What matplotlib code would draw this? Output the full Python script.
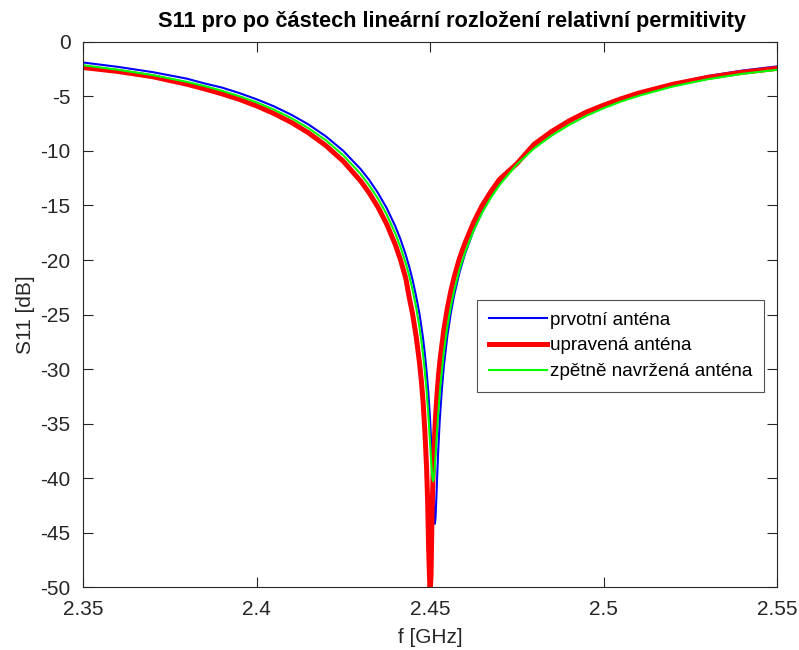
import matplotlib
matplotlib.use("Agg")
import matplotlib.pyplot as plt

plt.rcParams['font.family'] = ['Liberation Sans', 'DejaVu Sans']

# --- data (f in GHz, S11 in dB) ---
f_blue = [2.350, 2.360, 2.370, 2.380, 2.385, 2.390, 2.395, 2.400, 2.405, 2.410, 2.415,
          2.420, 2.425, 2.430, 2.4325, 2.435, 2.4375, 2.440, 2.4415, 2.443, 2.444,
          2.445, 2.446, 2.447, 2.448, 2.4485, 2.449, 2.4495, 2.450, 2.4505, 2.4509,
          2.4512, 2.4514, 2.4516, 2.4519, 2.4523, 2.4528, 2.4534, 2.454, 2.455,
          2.456, 2.457, 2.4585, 2.460, 2.4625, 2.465, 2.4675, 2.470, 2.475, 2.480,
          2.485, 2.490, 2.495, 2.500, 2.505, 2.510, 2.520, 2.530, 2.540, 2.550]
s_blue = [-1.88, -2.28, -2.76, -3.37, -3.80, -4.18, -4.68, -5.25, -5.90, -6.67, -7.57,
          -8.66, -9.99, -11.66, -12.67, -13.85, -15.23, -16.91, -18.11, -19.52, -20.61,
          -21.87, -23.34, -25.0, -27.2, -28.6, -30.18, -32.1, -34.5, -37.76, -41.1,
          -43.5, -44.2, -43.6, -41.2, -37.9, -34.7, -31.9, -29.7, -26.95,
          -24.86, -23.17, -21.14, -19.52, -17.33, -15.61, -14.19, -12.99, -11.06, -9.54,
          -8.33, -7.33, -6.49, -5.77, -5.16, -4.63, -3.80, -3.13, -2.62, -2.24]

f_red = [2.350, 2.360, 2.370, 2.380, 2.385, 2.390, 2.395, 2.400, 2.405, 2.410, 2.415,
         2.420, 2.425, 2.430, 2.4325, 2.435, 2.4375, 2.440, 2.4415, 2.443, 2.444,
         2.445, 2.446, 2.447, 2.4475, 2.448, 2.4485, 2.449, 2.4493, 2.4496, 2.4500,
         2.4503, 2.4506, 2.451, 2.4515, 2.452, 2.4525, 2.453, 2.454, 2.455, 2.456,
         2.457, 2.4585, 2.460, 2.4625, 2.465, 2.4675, 2.470, 2.475, 2.480, 2.485,
         2.490, 2.495, 2.500, 2.505, 2.510, 2.520, 2.530, 2.540, 2.550]
s_red = [-2.34, -2.70, -3.18, -3.88, -4.30, -4.75, -5.26, -5.86, -6.56, -7.37, -8.34,
         -9.51, -10.94, -12.75, -13.86, -15.15, -16.69, -18.59, -19.99, -21.66, -23.4,
         -25.0, -27.0, -29.5, -31.1, -33.0, -35.6, -39.0, -42.0, -46.5, -50.5,
         -48.9, -42.8, -38.4, -34.9, -32.4, -30.4, -28.85, -26.35, -24.42, -22.84,
         -21.51, -19.84, -18.51, -16.59, -15.01, -13.74, -12.61, -11.17, -9.38, -8.22,
         -7.25, -6.44, -5.80, -5.22, -4.70, -3.88, -3.25, -2.78, -2.42]

f_green = [2.350, 2.360, 2.370, 2.380, 2.385, 2.390, 2.395, 2.400, 2.405, 2.410, 2.415,
           2.420, 2.425, 2.430, 2.4325, 2.435, 2.4375, 2.440, 2.4415, 2.443, 2.444,
           2.445, 2.446, 2.447, 2.448, 2.4485, 2.449, 2.4495, 2.450, 2.4504, 2.4507,
           2.4509, 2.4511, 2.4514, 2.4518, 2.4523, 2.453, 2.454, 2.455, 2.456, 2.457,
           2.4585, 2.460, 2.4625, 2.465, 2.4675, 2.470, 2.475, 2.480, 2.485, 2.490,
           2.495, 2.500, 2.505, 2.510, 2.520, 2.530, 2.540, 2.550]
s_green = [-2.13, -2.54, -3.03, -3.66, -4.04, -4.47, -4.97, -5.53, -6.20, -6.98, -7.91,
           -9.02, -10.39, -12.11, -13.16, -14.37, -15.81, -17.57, -18.83, -20.29, -21.44,
           -22.77, -24.34, -26.26, -28.69, -30.2, -31.98, -34.13, -36.7, -38.84, -40.04,
           -40.3, -40.06, -38.93, -36.86, -34.35, -31.48, -28.42, -26.11, -24.28, -22.75,
           -20.88, -19.40, -17.33, -15.66, -14.30, -13.13, -11.24, -9.76, -8.60, -7.62,
           -6.78, -6.08, -5.47, -4.95, -4.08, -3.42, -2.92, -2.55]

labels = ['prvotní anténa', 'upravená anténa', 'zpětně navržená anténa']
x_ticks = [2.35, 2.40, 2.45, 2.50, 2.55]
x_ticklabels = ['2.35', '2.4', '2.45', '2.5', '2.55']
y_ticks = [0, -5, -10, -15, -20, -25, -30, -35, -40, -45, -50]

fig = plt.figure(figsize=(7.99, 6.5), dpi=100)
ax = fig.add_axes([0.1039, 0.0969, 0.8686, 0.8385])

ax.plot(f_blue, s_blue, color=(0, 0, 1), lw=1.5, label=labels[0])
ax.plot(f_red, s_red, color=(1, 0, 0), lw=3.6, label=labels[1])
ax.plot(f_green, s_green, color=(0, 1, 0), lw=1.5, label=labels[2])

ax.set_xlim(2.35, 2.55)
ax.set_ylim(-50, 0)
ax.set_xticks(x_ticks)
ax.set_xticklabels(x_ticklabels)
ax.set_yticks(y_ticks)
ax.set_yticklabels([str(v) for v in y_ticks])

dark = (0.15, 0.15, 0.15)
for sp in ax.spines.values():
    sp.set_color(dark)
    sp.set_linewidth(0.8)
ax.tick_params(direction='in', length=7, width=0.8, colors=dark,
               labelcolor=dark, labelsize=15, top=True, right=True, pad=9)

ax.set_xlabel('f [GHz]', fontsize=15, color=dark, labelpad=7)
ax.set_ylabel('S11 [dB]', fontsize=15, color=dark, labelpad=4)
ax.set_title('S11 pro po částech lineární rozložení relativní permitivity',
             fontsize=15.7, fontweight='bold', color='black', pad=11, x=0.532)

leg = ax.legend(loc='upper left', bbox_to_anchor=(0.568, 0.527), fontsize=13.6,
                frameon=True, fancybox=False, handlelength=3.05, handletextpad=0.2,
                borderpad=0.62, labelspacing=0.45, borderaxespad=0)
leg.get_frame().set_edgecolor(dark)
leg.get_frame().set_linewidth(0.8)
for t in leg.get_texts():
    t.set_color('black')

fig.savefig('out.png', dpi=100)
